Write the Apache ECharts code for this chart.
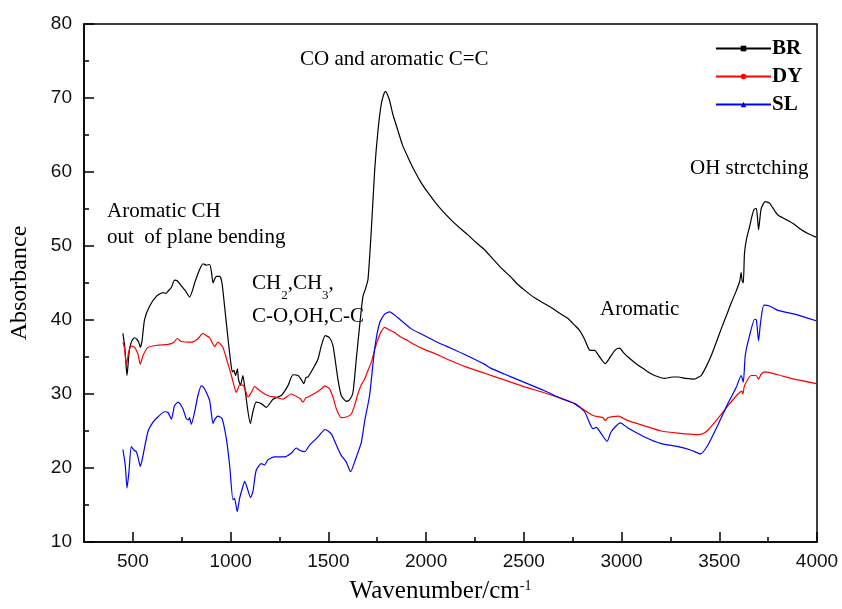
<!DOCTYPE html>
<html>
<head>
<meta charset="utf-8">
<script src="https://cdn.jsdelivr.net/npm/echarts@6/dist/echarts.min.js"></script>
<style>html,body{margin:0;padding:0;background:#fff}#c{width:842px;height:609px}</style>
</head>
<body>
<div id="c"></div>
<script>
// ---- data (wavenumber cm^-1, absorbance) ----
const seriesNames = ['BR', 'DY', 'SL'];
const xTickLabels = [500, 1000, 1500, 2000, 2500, 3000, 3500, 4000];
const xMinorTicks = [750, 1250, 1750, 2250, 2750, 3250, 3750];
const yTickLabels = [10, 20, 30, 40, 50, 60, 70, 80];

const brX = [449,458,465,470,477,483,495,509,520,530,538,547,560,586,620,654,670,680,697,713,727,748,770,790,805,816,841,859,876,893,902,910,918,927,944,956,969,987,1003,1010,1017,1025,1035,1040,1051,1063,1072,1089,1101,1114,1131,1157,1183,1217,1259,1293,1319,1345,1360,1375,1385,1396,1421,1447,1464,1484,1506,1524,1549,1566,1592,1609,1626,1643,1660,1677,1690,1703,1720,1737,1754,1771,1785,1793,1800,1813,1830,1856,1880,1907,1940,1976,2010,2044,2085,2129,2170,2214,2255,2299,2340,2385,2430,2470,2510,2555,2600,2640,2690,2726,2760,2785,2811,2830,2841,2862,2888,2917,2947,2970,2990,3010,3033,3070,3101,3140,3169,3220,3260,3289,3330,3373,3395,3408,3435,3459,3485,3510,3535,3561,3585,3604,3612,3617,3623,3629,3640,3655,3667,3677,3689,3695,3701,3707,3715,3735,3757,3780,3800,3840,3885,3920,3953,3996];
const brY = [38.2,36.5,34.0,32.5,34.5,36.1,37.2,37.6,37.4,37.0,36.3,37.2,40.1,41.9,43.2,43.7,43.6,43.9,44.4,45.4,45.3,44.6,43.9,43.1,44.0,45.0,46.8,47.6,47.4,47.5,46.5,45.0,45.5,45.9,45.9,45.0,41.9,37.4,33.8,33.0,33.2,32.5,33.4,32.0,31.2,32.5,31.0,27.6,26.0,27.6,28.9,28.7,28.2,29.3,29.8,31.1,32.6,32.5,32.0,31.4,32.2,32.3,33.4,34.7,36.5,37.9,37.6,36.5,32.0,29.8,29.0,29.2,30.2,34.7,39.2,43.2,44.2,45.5,52.2,60.2,65.6,69.2,70.6,70.9,70.6,69.7,67.8,65.6,63.6,62.0,60.2,58.5,57.2,56.0,54.7,53.5,52.5,51.5,50.5,49.5,48.3,47.0,45.9,44.8,43.9,43.0,42.3,41.7,40.8,40.2,39.3,38.6,37.4,36.2,35.9,35.9,35.0,34.1,35.2,36.0,36.2,35.6,35.0,34.2,33.6,32.9,32.5,32.1,32.3,32.3,32.1,32.0,32.3,32.5,33.8,35.2,37.0,38.8,40.5,42.3,43.8,45.2,46.4,45.3,45.0,49.0,51.0,52.6,54.0,54.9,55.1,54.0,52.2,53.5,55.1,56.0,55.8,54.9,54.2,53.6,52.9,52.2,51.7,51.2];

const dyX = [449,458,466,472,478,492,509,526,538,552,577,628,680,710,727,748,799,830,859,875,893,918,935,961,987,1004,1017,1029,1046,1063,1072,1089,1106,1123,1148,1174,1200,1225,1268,1310,1335,1355,1370,1385,1396,1438,1465,1481,1506,1525,1541,1566,1592,1617,1635,1651,1668,1685,1700,1720,1737,1754,1770,1788,1810,1839,1870,1907,1940,1976,2050,2100,2200,2300,2400,2500,2600,2691,2760,2811,2854,2888,2905,2917,2930,2947,2985,3010,3033,3118,3203,3289,3391,3420,3442,3493,3544,3596,3615,3621,3629,3664,3689,3701,3715,3735,3800,3885,3996];
const dyY = [37.0,36.1,34.0,34.6,35.6,36.5,36.3,35.4,34.0,35.2,36.3,36.6,36.7,37.0,37.5,37.1,37.0,37.4,38.2,37.9,37.6,36.4,37.0,36.3,34.0,32.5,31.2,30.2,31.2,31.2,30.8,29.6,30.2,31.0,30.5,30.0,29.7,29.6,29.3,30.0,29.7,29.4,28.9,29.5,29.6,30.2,30.7,31.1,30.7,29.5,28.0,26.8,26.9,27.3,28.5,30.0,31.2,32.0,33.0,34.3,36.0,37.4,38.4,39.0,38.7,38.3,37.7,37.2,36.7,36.2,35.4,34.8,33.7,32.8,31.9,31.0,30.2,29.4,28.7,27.8,27.1,26.9,26.8,26.4,26.8,26.9,27.0,26.7,26.4,25.7,25.0,24.7,24.5,24.7,25.1,26.7,28.4,30.0,30.4,30.0,31.1,32.5,32.5,32.0,32.7,33.0,32.6,32.0,31.4];

const slX = [449,461,470,480,492,506,518,526,538,552,577,603,628,662,680,697,713,731,756,773,785,790,799,816,833,850,862,876,893,901,910,920,935,956,978,995,1012,1020,1034,1046,1063,1072,1085,1102,1114,1131,1157,1174,1191,1225,1276,1310,1336,1353,1379,1404,1447,1484,1515,1541,1566,1592,1614,1634,1669,1685,1711,1737,1762,1788,1813,1856,1924,1976,2050,2100,2200,2300,2330,2400,2500,2600,2691,2760,2811,2841,2854,2871,2897,2926,2947,2994,3033,3118,3203,3289,3357,3404,3442,3493,3544,3587,3612,3623,3633,3655,3681,3690,3701,3711,3728,3757,3800,3885,3996];
const slY = [22.5,20.4,17.3,19.5,22.9,22.4,22.2,21.5,20.2,21.7,24.9,26.2,26.9,27.6,27.5,26.6,28.4,28.9,28.0,26.7,26.5,26.8,25.9,27.6,29.8,31.1,30.9,30.2,29.1,27.5,26.0,26.6,27.0,26.7,24.0,20.4,15.7,15.9,14.1,15.9,17.5,18.2,17.3,16.0,16.8,19.7,20.6,20.4,21.1,21.5,21.5,22.0,22.7,22.4,22.2,23.1,24.2,25.2,24.6,23.1,21.7,20.8,19.5,20.8,23.5,26.2,29.8,36.1,39.6,40.8,41.1,40.3,38.8,38.1,37.1,36.5,35.3,34.0,33.5,32.7,31.6,30.5,29.4,28.7,27.6,25.8,25.3,25.5,24.6,23.6,24.9,26.1,25.4,24.2,23.3,22.9,22.4,21.9,23.1,25.8,28.7,30.9,32.5,31.6,35.2,37.9,40.1,40.0,37.2,39.6,42.0,41.9,41.3,40.8,39.9];

const pairs = (xs, ys) => xs.map((x, i) => [x, ys[i]]);
const colors = ['#000000', '#ff0000', '#0000ff'];
const symbols = ['rect', 'circle', 'triangle'];
const dataSets = [pairs(brX, brY), pairs(dyX, dyY), pairs(slX, slY)];

const serif = '"Liberation Serif", "Times New Roman", serif';
const sans = '"Liberation Sans", Arial, sans-serif';

const chart = echarts.init(document.getElementById('c'), null, {renderer: 'canvas'});
const annFont = {fontFamily: serif, fontSize: 21, fill: '#000'};
function ann(x, y, text, rich) {
  return {type: 'text', left: x, top: y, z: 100,
    style: Object.assign({text: text, rich: rich}, annFont)};
}
const subRich = {
  n: {fontFamily: serif, fontSize: 21, color: '#000', verticalAlign: 'top', lineHeight: 25},
  s: {fontFamily: serif, fontSize: 13, color: '#000', verticalAlign: 'bottom', lineHeight: 25, padding: [0,0,-4,0]}
};

chart.setOption({
  animation: false,
  backgroundColor: '#fff',
  grid: {left: 83, right: 25, top: 24, bottom: 65, show: true, borderColor: '#000', borderWidth: 1.5, backgroundColor: 'transparent'},
  legend: {
    data: seriesNames,
    orient: 'vertical',
    left: 710, top: 33,
    itemWidth: 55, itemHeight: 7, itemGap: 7,
    textStyle: {fontFamily: serif, fontSize: 21, fontWeight: 'bold', color: '#000', padding: [0,0,0,-4]}
  },
  xAxis: [{
    type: 'value', min: 250, max: 4000,
    axisLine: {onZero: false, lineStyle: {color: '#000', width: 1.5}},
    axisTick: {inside: true, length: 10, customValues: xTickLabels, lineStyle: {color: '#000', width: 1.5}},
    axisLabel: {customValues: xTickLabels, formatter: v => String(v), fontFamily: sans, fontSize: 19, color: '#111', margin: 10},
    splitLine: {show: false},
    name: '{a|Wavenumber/cm}{b|-1}',
    nameLocation: 'middle', nameGap: 37,
    nameTextStyle: {padding: [0, 20, 0, 0], rich: {
      a: {fontFamily: serif, fontSize: 25, color: '#000', verticalAlign: 'top', lineHeight: 28},
      b: {fontFamily: serif, fontSize: 14, color: '#000', verticalAlign: 'top'}
    }}
  }, {
    type: 'value', min: 250, max: 4000, position: 'bottom',
    axisLine: {show: false, onZero: false},
    axisTick: {inside: true, length: 5, customValues: xMinorTicks, lineStyle: {color: '#000', width: 1.5}},
    axisLabel: {show: false},
    splitLine: {show: false}
  }],
  yAxis: {
    type: 'value', min: 10, max: 80, interval: 10,
    axisLine: {show: true, lineStyle: {color: '#000', width: 1.5}},
    axisTick: {show: true, inside: true, length: 10, lineStyle: {color: '#000', width: 1.5}},
    minorTick: {show: true, splitNumber: 2, length: 5, lineStyle: {color: '#000', width: 1.5}},
    axisLabel: {fontFamily: sans, fontSize: 19, color: '#111', margin: 12},
    splitLine: {show: false},
    name: 'Absorbance', nameLocation: 'middle', nameGap: 52,
    nameTextStyle: {fontFamily: serif, fontSize: 24, color: '#000'}
  },
  series: seriesNames.map((n, i) => ({
    name: n, type: 'line', xAxisIndex: 0,
    data: dataSets[i],
    showSymbol: false, symbol: symbols[i], symbolSize: 6,
    lineStyle: {color: colors[i], width: 1.2},
    itemStyle: {color: colors[i]},
    smooth: 0.2
  })),
  graphic: [
    ann(300, 49, 'CO and aromatic C=C'),
    ann(107, 201, 'Aromatic CH'),
    ann(107, 227, 'out  of plane bending'),
    ann(252, 273, '{n|CH}{s|2}{n|,CH}{s|3}{n|,}', subRich),
    ann(252, 306, 'C-O,OH,C-C'),
    ann(600, 299, 'Aromatic'),
    ann(690, 158, 'OH strctching')
  ]
});
</script>
</body>
</html>
